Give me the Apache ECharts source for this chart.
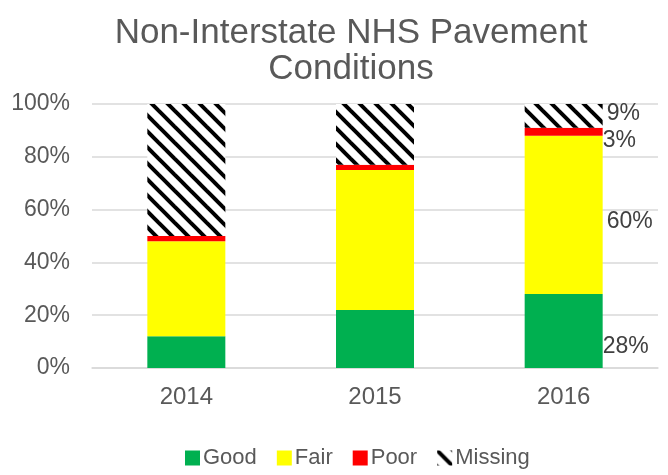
<!DOCTYPE html>
<html>
<head>
<meta charset="utf-8">
<script src="https://cdn.jsdelivr.net/npm/echarts@6/dist/echarts.min.js"></script>
<style>
  html, body { margin: 0; padding: 0; background: #fff; }
  #chart { width: 668px; height: 475px; }
</style>
</head>
<body>
<div id="chart"></div>
<script>
// 路面状况数据 (%)
const years = ['2014', '2015', '2016'];
const good = [12, 22, 28];
const fair = [36, 53, 60];
const poor = [2, 2, 3];
const missing = [50, 23, 9];
const yTicks = [0, 20, 40, 60, 80, 100];

const FONT = '"Liberation Sans", Arial, sans-serif';
const GRAY = '#595959';

// 斜线填充
function hatch() {
  let c = document.createElement('canvas');
  c.width = 16;
  c.height = 16;
  let ctx = c.getContext('2d');
  ctx.fillStyle = '#fff';
  ctx.fillRect(0, 0, 16, 16);
  ctx.strokeStyle = '#000';
  ctx.lineWidth = 4;
  [-16, 0, 16].forEach(k => {
    ctx.beginPath();
    ctx.moveTo(k - 2, -2);
    ctx.lineTo(k + 18, 18);
    ctx.stroke();
  });
  return { image: c, repeat: 'repeat' };
}

// 只在 2016 显示标签
function withLabels(arr, offset) {
  return arr.map((v, i) => {
    if (i !== years.length - 1) return v;
    return {
      value: v,
      label: {
        show: true,
        position: 'right',
        distance: 0,
        offset: offset,
        formatter: '{c}%',
        color: '#404040',
        fontSize: 23,
        fontFamily: FONT,
      },
    };
  });
}

const chart = echarts.init(document.getElementById('chart'), null, { renderer: 'canvas' });

const barBase = {
  type: 'bar',
  stack: 'total',
  barWidth: 78,
  emphasis: { disabled: true },
};

chart.setOption({
  animation: false,
  title: {
    text: 'Non-Interstate NHS Pavement\nConditions',
    left: 346,
    top: 10,
    textAlign: 'center',
    textStyle: {
      color: GRAY,
      fontSize: 35,
      fontWeight: 'normal',
      fontFamily: FONT,
      lineHeight: 36,
    },
  },
  legend: {
    bottom: 1,
    left: 180,
    itemWidth: 15,
    itemHeight: 15,
    itemGap: 20,
    icon: 'rect',
    textStyle: { color: GRAY, fontSize: 22, fontFamily: FONT, padding: [0, 0, 0, -2] },
    data: ['Good', 'Fair', 'Poor', 'Missing'],
  },
  grid: {
    left: 92,
    right: 10,
    top: 104,
    bottom: 107,
    containLabel: false,
  },
  xAxis: {
    type: 'category',
    data: years,
    axisLine: { lineStyle: { color: '#d9d9d9', width: 1.5 } },
    axisTick: { show: false },
    axisLabel: { color: GRAY, fontSize: 24, fontFamily: FONT, margin: 17 },
  },
  yAxis: {
    type: 'value',
    min: yTicks[0],
    max: yTicks[yTicks.length - 1],
    interval: 20,
    axisLine: { show: false },
    axisTick: { show: false },
    splitLine: { lineStyle: { color: '#d9d9d9', width: 1.5 } },
    axisLabel: {
      color: GRAY,
      fontSize: 23,
      fontFamily: FONT,
      margin: 22,
      formatter: '{value}%',
    },
  },
  series: [
    Object.assign({}, barBase, {
      name: 'Good',
      itemStyle: { color: '#00B050' },
      data: withLabels(good, [0, 16]),
    }),
    Object.assign({}, barBase, {
      name: 'Fair',
      itemStyle: { color: '#FFFF00' },
      data: withLabels(fair, [4, 7]),
    }),
    Object.assign({}, barBase, {
      name: 'Poor',
      itemStyle: { color: '#FF0000' },
      data: withLabels(poor, [0, 9]),
    }),
    Object.assign({}, barBase, {
      name: 'Missing',
      itemStyle: { color: hatch() },
      data: withLabels(missing, [4, -2]),
    }),
  ],
});
</script>
</body>
</html>
